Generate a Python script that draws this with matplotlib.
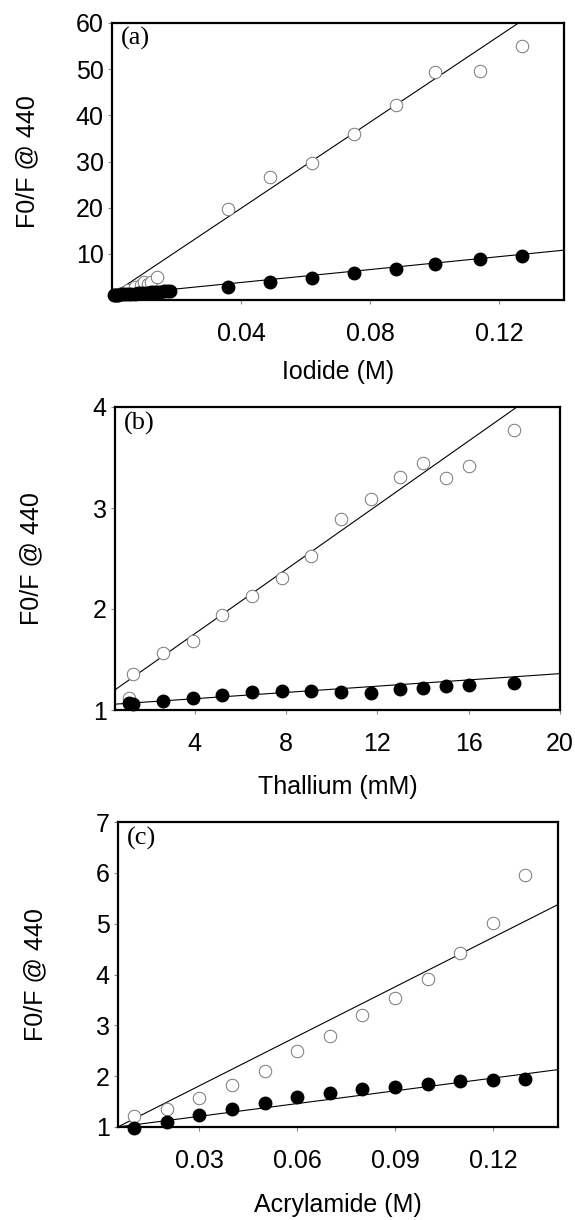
#!/usr/bin/env python3
# -*- coding: utf-8 -*-

"""Stern-Volmer quenching plots: iodide, thallium, acrylamide."""

import matplotlib
matplotlib.use("Agg")
import matplotlib.pyplot as plt

W, H = 575, 1220

# (a) iodide (M)
iod_open_x = [0.003, 0.005, 0.007, 0.009, 0.010, 0.011, 0.012, 0.014,
              0.036, 0.049, 0.062, 0.075, 0.088, 0.100, 0.114, 0.127]
iod_open_y = [1.6, 2.2, 2.8, 3.3, 3.9, 3.4, 4.0, 5.0,
              19.8, 26.6, 29.6, 36.0, 42.2, 49.4, 49.7, 55.0]
iod_fill_x = [0.0005, 0.001, 0.0015, 0.002, 0.003, 0.004, 0.005, 0.006,
              0.007, 0.008, 0.009, 0.010, 0.011, 0.012, 0.013, 0.014,
              0.015, 0.016, 0.017, 0.018,
              0.036, 0.049, 0.062, 0.075, 0.088, 0.100, 0.114, 0.127]
iod_fill_y = [1.0, 1.05, 1.1, 1.15, 1.2, 1.25, 1.3, 1.35,
              1.4, 1.45, 1.5, 1.55, 1.6, 1.65, 1.7, 1.75,
              1.8, 1.85, 1.9, 2.0,
              2.8, 3.8, 4.8, 5.8, 6.8, 7.8, 8.9, 9.6]
iod_fits = [(1.2, 467.0), (1.0, 70.0)]  # (intercept, slope)

# (b) thallium (mM)
tl_x = [1.1, 1.3, 2.6, 3.9, 5.2, 6.5, 7.8, 9.1, 10.4, 11.7, 13.0, 14.0,
        15.0, 16.0, 18.0]
tl_open_y = [1.12, 1.36, 1.56, 1.68, 1.94, 2.13, 2.31, 2.52, 2.89, 3.09,
             3.31, 3.45, 3.30, 3.42, 3.77]
tl_fill_y = [1.07, 1.06, 1.09, 1.12, 1.15, 1.18, 1.19, 1.19, 1.18, 1.17,
             1.21, 1.22, 1.24, 1.25, 1.27]
tl_fits = [(1.12, 0.159), (1.05, 0.0155)]

# (c) acrylamide (M)
acr_x = [0.01, 0.02, 0.03, 0.04, 0.05, 0.06, 0.07, 0.08, 0.09, 0.10,
         0.11, 0.12, 0.13]
acr_open_y = [1.21, 1.36, 1.58, 1.83, 2.10, 2.50, 2.80, 3.21, 3.54, 3.91,
              4.42, 5.02, 5.95]
acr_fill_y = [0.99, 1.10, 1.23, 1.35, 1.48, 1.59, 1.67, 1.75, 1.79, 1.85,
              1.90, 1.92, 1.94]
acr_fits = [(0.84, 32.4), (0.96, 8.35)]

PANELS = [
    # box (left, top, right, bottom) in pixels, data, limits, ticks
    dict(box=(112, 23, 564, 300), tag="(a)", xlabel="Iodide (M)",
         open=(iod_open_x, iod_open_y), fill=(iod_fill_x, iod_fill_y),
         fits=iod_fits, xlim=(0, 0.14), ylim=(0, 60),
         xticks=[0.04, 0.08, 0.12], yticks=[10, 20, 30, 40, 50, 60],
         xfmt="{:.2f}", yfmt="{:.0f}"),
    dict(box=(115, 407, 560, 710), tag="(b)", xlabel="Thallium (mM)",
         open=(tl_x, tl_open_y), fill=(tl_x, tl_fill_y),
         fits=tl_fits, xlim=(0.5, 20), ylim=(1, 4),
         xticks=[4, 8, 12, 16, 20], yticks=[1, 2, 3, 4],
         xfmt="{:.0f}", yfmt="{:.0f}"),
    dict(box=(118, 822, 558, 1127), tag="(c)", xlabel="Acrylamide (M)",
         open=(acr_x, acr_open_y), fill=(acr_x, acr_fill_y),
         fits=acr_fits, xlim=(0.005, 0.14), ylim=(1, 7),
         xticks=[0.03, 0.06, 0.09, 0.12], yticks=[1, 2, 3, 4, 5, 6, 7],
         xfmt="{:.2f}", yfmt="{:.0f}"),
]


def draw_panel(fig, p):
    """Draws one quenching panel."""
    l, t, r, b = p["box"]
    ax = fig.add_axes([l / W, 1 - b / H, (r - l) / W, (b - t) / H])
    for (b0, m) in p["fits"]:
        ax.axline((0, b0), slope=m, color="black", lw=0.8, zorder=1)
    ax.plot(*p["open"], "o", ms=9, mfc="white", mec="#777777", mew=0.7,
            zorder=2, clip_on=False)
    ax.plot(*p["fill"], "o", ms=9, mfc="black", mec="black", zorder=3,
            clip_on=False)
    ax.set_xlim(*p["xlim"])
    ax.set_ylim(*p["ylim"])
    ax.set_xticks(p["xticks"])
    ax.set_xticklabels([p["xfmt"].format(v) for v in p["xticks"]])
    ax.set_yticks(p["yticks"])
    ax.set_yticklabels([p["yfmt"].format(v) for v in p["yticks"]])
    ax.tick_params(axis="x", direction="out", length=3, width=0.8,
                   color="#888888", labelsize=18, pad=13)
    ax.tick_params(axis="y", direction="out", length=3, width=0.8,
                   color="#888888", labelsize=18, pad=3)
    for s in ax.spines.values():
        s.set_linewidth(1.6)
    ax.set_xlabel(p["xlabel"], fontsize=18)
    ax.set_ylabel("F0/F @ 440", fontsize=18)
    ax.xaxis.set_label_coords(0.5, -0.215)
    ax.yaxis.set_label_coords(-0.16, 0.5)
    ax.text(0.02, 0.985, p["tag"], transform=ax.transAxes, ha="left",
            va="top", fontsize=19, family="Liberation Serif")
    return ax


def main():
    """Main function."""
    plt.rcParams["font.family"] = ["Liberation Sans", "DejaVu Sans"]
    fig = plt.figure(figsize=(W / 100, H / 100), dpi=100)
    for p in PANELS:
        draw_panel(fig, p)
    fig.savefig("out.png", dpi=100)


if __name__ == "__main__":
    main()
